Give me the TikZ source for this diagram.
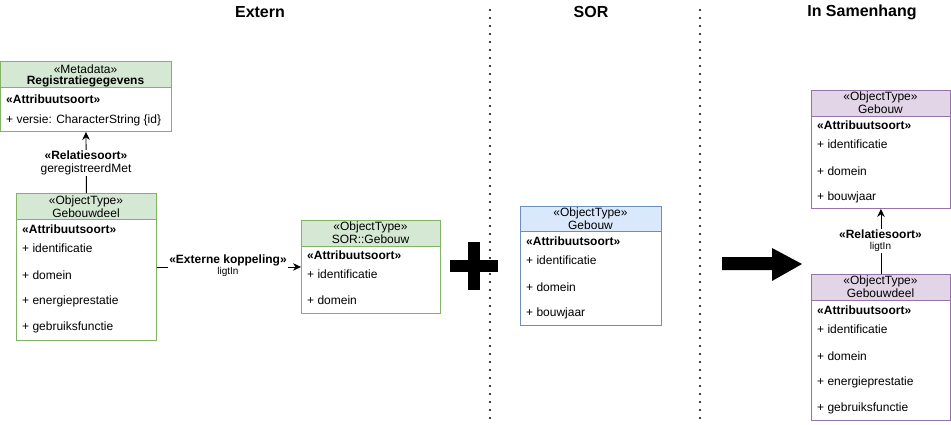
\documentclass[tikz,border=0pt]{standalone}
\usepackage{fontspec}
\setmainfont{Liberation Sans}
\usetikzlibrary{arrows.meta}
\definecolor{gfill}{HTML}{D5E8D4}
\definecolor{gline}{HTML}{82B366}
\definecolor{bfill}{HTML}{DAE8FC}
\definecolor{bline}{HTML}{6C8EBF}
\definecolor{pfill}{HTML}{E1D5E7}
\definecolor{pline}{HTML}{9673A6}
\begin{document}
\begin{tikzpicture}[x=1pt,y=-1pt,
  box/.style={draw=#1, line width=0.9pt, fill=white, anchor=north west, inner sep=0pt},
  hdr/.style={draw=#1, line width=0.9pt, anchor=north west, inner sep=0pt, minimum height=26pt},
  ctr/.style={font=\fontsize{12}{14}\selectfont, inner sep=0pt},
  att/.style={font=\fontsize{12}{14}\selectfont, inner sep=0pt, anchor=west},
  attb/.style={font=\fontsize{12}{14}\selectfont\bfseries, inner sep=0pt, anchor=west},
  ttl/.style={font=\fontsize{16}{18}\selectfont\bfseries, inner sep=0pt},
  lbl/.style={fill=white, inner sep=1pt, align=center, font=\fontsize{12}{13}\selectfont},
  arr/.style={-{Stealth[length=8pt,width=7.5pt]}, line width=0.9pt},
  sep/.style={line width=2.2pt, dash pattern=on 0pt off 8pt, line cap=round}
]
\useasboundingbox (0,0) rectangle (951,424);

% titles
\node[ttl] (t1) at (260,12) {Extern};
\node[ttl] (t2) at (591,12) {SOR};
\node[ttl] (t3) at (862,12) {In Samenhang};

% separators
\draw[sep] (490,10) -- (490,424);
\draw[sep] (700,10) -- (700,424);

% Registratiegegevens
\node[box=gline, minimum width=171pt, minimum height=70pt] (reg) at (0,61) {};
\node[hdr=gline, fill=gfill, minimum width=171pt] (regh) at (0,61) {};
\node[ctr] (reg1) at (85.5,69) {«Metadata»};
\node[ctr, font=\fontsize{12}{14}\selectfont\bfseries] (reg2) at (85.5,81) {Registratiegegevens};
\node[attb] (reg3) at (6,99) {«Attribuutsoort»};
\node[att] (reg4) at (6,120) {+ versie: CharacterString \{id\}};

% Gebouwdeel (Extern)
\node[box=gline, minimum width=140pt, minimum height=147pt] (gd1) at (16,193) {};
\node[hdr=gline, fill=gfill, minimum width=140pt] (gd1h) at (16,193) {};
\node[ctr] (gd1a) at (86,201) {«ObjectType»};
\node[ctr] (gd1b) at (86,213) {Gebouwdeel};
\node[attb] (gd1c) at (22,229) {«Attribuutsoort»};
\node[att] (gd1d) at (22,248) {+ identificatie};
\node[att] (gd1e) at (22,275) {+ domein};
\node[att] (gd1f) at (22,301) {+ energieprestatie};
\node[att] (gd1g) at (22,327) {+ gebruiksfunctie};

% SOR::Gebouw
\node[box=gline, minimum width=139pt, minimum height=93pt] (sor) at (301,220) {};
\node[hdr=gline, fill=gfill, minimum width=139pt] (sorh) at (301,220) {};
\node[ctr] (sora) at (370.5,227) {«ObjectType»};
\node[ctr] (sorb) at (370.5,239) {SOR::Gebouw};
\node[attb] (sorc) at (307,255) {«Attribuutsoort»};
\node[att] (sord) at (307,274) {+ identificatie};
\node[att] (sore) at (307,300) {+ domein};

% connectors Extern
\draw[arr] (gd1.north) -- (reg.south);
\node[lbl] (l1) at (86,163) {\textbf{«Relatiesoort»}\\geregistreerdMet};
\draw[arr] (gd1.east) -- (gd1.east -| sor.west);
\node[lbl] (l2) at (228,266) {\textbf{«Externe koppeling»}\\[-2pt]{\fontsize{10}{11}\selectfont ligtIn}};

% plus
\fill (450,260) rectangle (498,272);
\fill (468,242) rectangle (480,290);

% SOR Gebouw (blue)
\node[box=bline, minimum width=141pt, minimum height=119pt] (gb) at (520,206) {};
\node[hdr=bline, fill=bfill, minimum width=141pt, minimum height=25pt] (gbh) at (520,206) {};
\node[ctr] (gba) at (590.5,213) {«ObjectType»};
\node[ctr] (gbb) at (590.5,225) {Gebouw};
\node[attb] (gbc) at (526,241) {«Attribuutsoort»};
\node[att] (gbd) at (526,260) {+ identificatie};
\node[att] (gbe) at (526,287) {+ domein};
\node[att] (gbf) at (526,313) {+ bouwjaar};

% big arrow
\fill (722,257) -- (772,257) -- (772,248) -- (802,264) -- (772,281) -- (772,270) -- (722,270) -- cycle;

% In Samenhang: Gebouw
\node[box=pline, minimum width=139pt, minimum height=118pt] (pg) at (811,90) {};
\node[hdr=pline, fill=pfill, minimum width=139pt] (pgh) at (811,90) {};
\node[ctr] (pga) at (880.5,97) {«ObjectType»};
\node[ctr] (pgb) at (880.5,109) {Gebouw};
\node[attb] (pgc) at (817,125) {«Attribuutsoort»};
\node[att] (pgd) at (817,144) {+ identificatie};
\node[att] (pge) at (817,171) {+ domein};
\node[att] (pgf) at (817,197) {+ bouwjaar};

% In Samenhang: Gebouwdeel
\node[box=pline, minimum width=139pt, minimum height=146pt] (pd) at (811,274) {};
\node[hdr=pline, fill=pfill, minimum width=139pt] (pdh) at (811,274) {};
\node[ctr] (pda) at (880.5,281) {«ObjectType»};
\node[ctr] (pdb) at (880.5,293) {Gebouwdeel};
\node[attb] (pdc) at (817,310) {«Attribuutsoort»};
\node[att] (pdd) at (817,329) {+ identificatie};
\node[att] (pde) at (817,356) {+ domein};
\node[att] (pdf) at (817,382) {+ energieprestatie};
\node[att] (pdg) at (817,408) {+ gebruiksfunctie};

\draw[arr] (pd.north) -- (pg.south);
\node[lbl] (l3) at (880.5,241) {\textbf{«Relatiesoort»}\\[-2pt]{\fontsize{10}{11}\selectfont ligtIn}};
\end{tikzpicture}
\end{document}
